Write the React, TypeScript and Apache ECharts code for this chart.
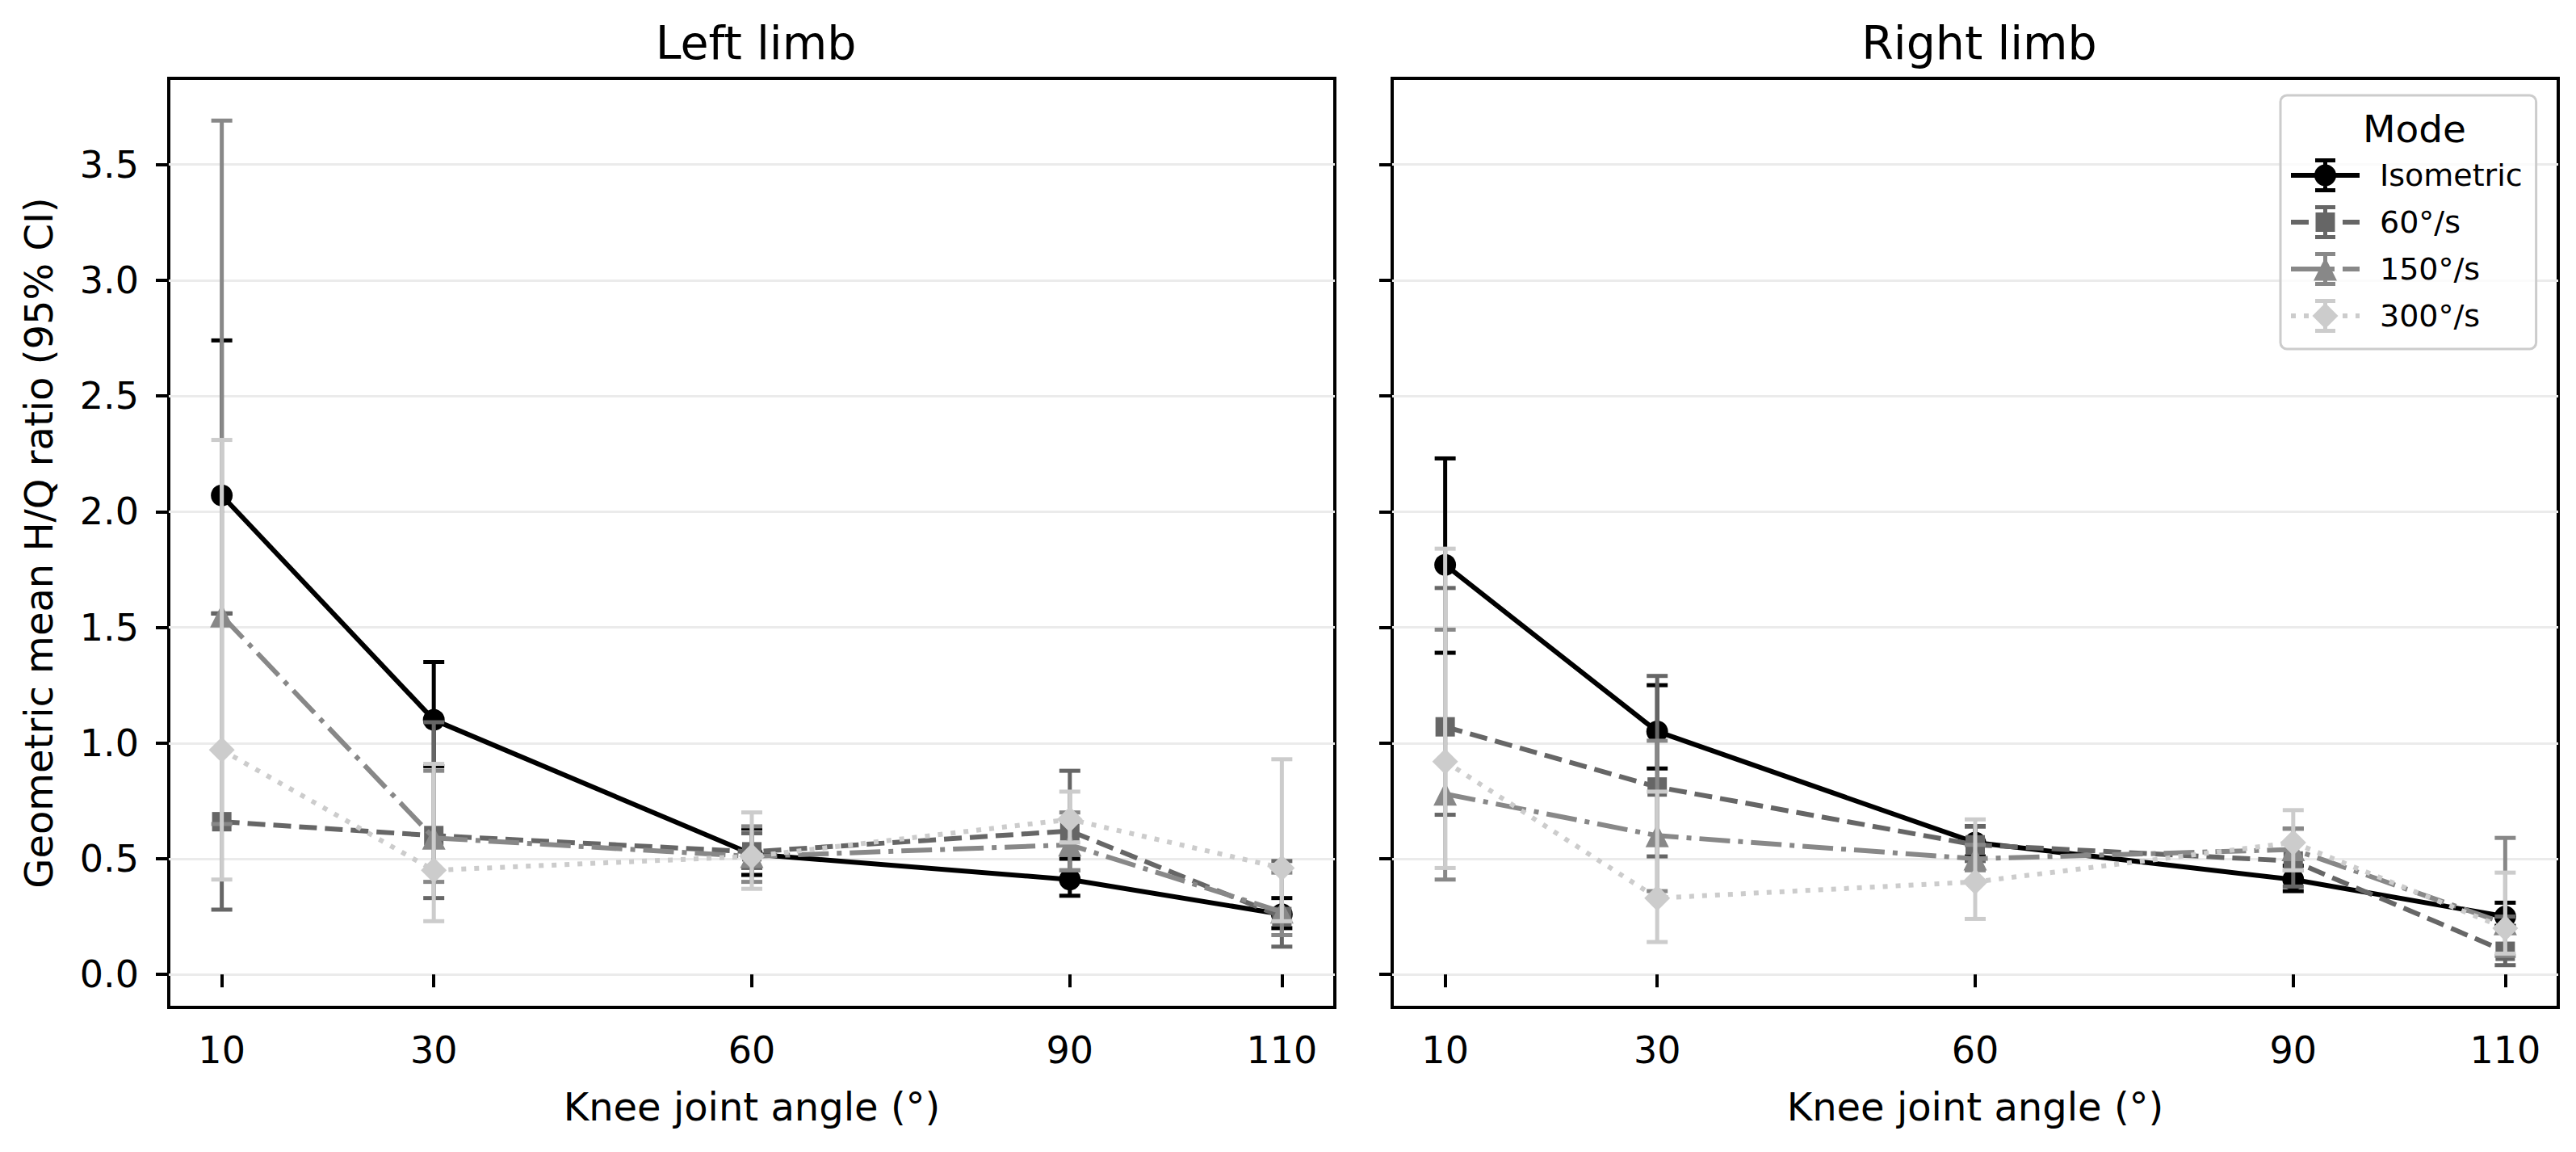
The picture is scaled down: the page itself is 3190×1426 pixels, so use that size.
import React, { useEffect, useRef } from "react";
import * as echarts from "echarts";

// ---------- data ----------
const angles = [10, 30, 60, 90, 110];
const modes = ["Isometric", "60°/s", "150°/s", "300°/s"];
const yTicks = [0, 0.5, 1, 1.5, 2, 2.5, 3, 3.5];
const panelTitles = ["Left limb", "Right limb"];

// Left limb: geometric mean and 95% CI
const leftIsoMean = [2.07, 1.1, 0.52, 0.41, 0.26];
const leftIsoLow = [1.56, 0.9, 0.43, 0.34, 0.2];
const leftIsoHigh = [2.74, 1.35, 0.63, 0.5, 0.33];
const left60Mean = [0.66, 0.6, 0.53, 0.62, 0.25];
const left60Low = [0.28, 0.33, 0.46, 0.45, 0.12];
const left60High = [1.56, 1.09, 0.61, 0.88, 0.49];
const left150Mean = [1.55, 0.59, 0.51, 0.56, 0.27];
const left150Low = [0.65, 0.4, 0.4, 0.45, 0.17];
const left150High = [3.69, 0.88, 0.64, 0.7, 0.44];
const left300Mean = [0.97, 0.45, 0.51, 0.67, 0.46];
const left300Low = [0.41, 0.23, 0.37, 0.57, 0.23];
const left300High = [2.31, 0.91, 0.7, 0.79, 0.93];

// Right limb
const rightIsoMean = [1.77, 1.05, 0.57, 0.41, 0.25];
const rightIsoLow = [1.39, 0.89, 0.51, 0.36, 0.21];
const rightIsoHigh = [2.23, 1.25, 0.64, 0.47, 0.31];
const right60Mean = [1.07, 0.81, 0.56, 0.49, 0.1];
const right60Low = [0.69, 0.51, 0.49, 0.38, 0.04];
const right60High = [1.67, 1.29, 0.64, 0.63, 0.25];
const right150Mean = [0.78, 0.6, 0.5, 0.54, 0.22];
const right150Low = [0.41, 0.36, 0.45, 0.45, 0.08];
const right150High = [1.49, 1.01, 0.56, 0.63, 0.59];
const right300Mean = [0.92, 0.33, 0.4, 0.57, 0.2];
const right300Low = [0.46, 0.14, 0.24, 0.45, 0.09];
const right300High = [1.84, 0.79, 0.67, 0.71, 0.44];

const panels = [
  {
    mean: [leftIsoMean, left60Mean, left150Mean, left300Mean],
    low: [leftIsoLow, left60Low, left150Low, left300Low],
    high: [leftIsoHigh, left60High, left150High, left300High],
  },
  {
    mean: [rightIsoMean, right60Mean, right150Mean, right300Mean],
    low: [rightIsoLow, right60Low, right150Low, right300Low],
    high: [rightIsoHigh, right60High, right150High, right300High],
  },
];

// ---------- styles ----------
const FONT = "DejaVu Sans";
const colors = ["#000000", "#666666", "#888888", "#cccccc"];
const lineTypes: any[] = ["solid", [22, 10], [38, 10, 6, 10], [6, 10]];
const symbols = ["circle", "rect", "triangle", "diamond"];
const symbolSizes: any[] = [27, 24, 29, 32];
const LW = 6;

// legend icon (line + errorbar + marker) in an 85 x 42 box
const rectP = (x: number, y: number, w: number, h: number) =>
  `M${x} ${y}h${w}v${h}h${-w}Z`;
const legendSegments = [
  [[0, 85]],
  [[0, 22], [32, 54], [64, 85]],
  [[0, 38], [48, 54], [64, 85]],
  [[0, 6], [16, 22], [32, 38], [48, 54], [64, 70], [80, 85]],
];
const legendMarkers = [
  "M29 21A13.5 13.5 0 1 1 56 21A13.5 13.5 0 1 1 29 21Z",
  rectP(30.5, 9, 24, 24),
  "M42.5 6.5L57 35.5L28 35.5Z",
  "M42.5 5L58.5 21L42.5 37L26.5 21Z",
];
const legendIcon = (i: number) =>
  "path://" +
  legendSegments[i].map(([a, b]) => rectP(a, 18, b - a, 6)).join("") +
  rectP(40, 0, 5, 42) +
  rectP(30, 0, 25, 5) +
  rectP(30, 37, 25, 5) +
  legendMarkers[i];

export default function App() {
  const ref = useRef<HTMLDivElement>(null);

  useEffect(() => {
    if (!ref.current) return;
    const chart = echarts.init(ref.current, undefined, { renderer: "svg" });

    const allLow = panels.flatMap((p) => p.low.flat());
    const allHigh = panels.flatMap((p) => p.high.flat());
    const dMin = Math.min(...allLow);
    const dMax = Math.max(...allHigh);
    const yMin = dMin - 0.05 * (dMax - dMin);
    const yMax = dMax + 0.05 * (dMax - dMin);
    const xSpan = angles[angles.length - 1] - angles[0];
    const xMin = angles[0] - 0.05 * xSpan;
    const xMax = angles[angles.length - 1] + 0.05 * xSpan;

    const grids = [
      { left: 209, top: 97, width: 1444, height: 1150 },
      { left: 1724, top: 97, width: 1444, height: 1150 },
    ];

    const xAxes = grids.map((_, gi) => ({
      type: "value",
      gridIndex: gi,
      min: xMin,
      max: xMax,
      name: "Knee joint angle (°)",
      nameLocation: "middle",
      nameGap: 99,
      nameTextStyle: { fontFamily: FONT, fontSize: 48, color: "#000" },
      axisLine: { show: false },
      splitLine: { show: false },
      axisTick: {
        show: true,
        customValues: angles,
        length: 16,
        lineStyle: { color: "#000", width: 4 },
      },
      axisLabel: {
        customValues: angles,
        margin: 30,
        fontFamily: FONT,
        fontSize: 46,
        color: "#000",
      },
    }));

    const yAxes = grids.map((_, gi) => ({
      type: "value",
      gridIndex: gi,
      min: yMin,
      max: yMax,
      name: gi === 0 ? "Geometric mean H/Q ratio (95% CI)" : "",
      nameLocation: "middle",
      nameRotate: 90,
      nameGap: 137,
      nameTextStyle: { fontFamily: FONT, fontSize: 48, color: "#000" },
      axisLine: { show: false },
      splitLine: { show: true, lineStyle: { color: "#ebebeb", width: 3 } },
      axisTick: {
        show: true,
        customValues: yTicks,
        length: 16,
        lineStyle: { color: "#000", width: 4 },
      },
      axisLabel: {
        show: gi === 0,
        customValues: yTicks,
        margin: 37,
        fontFamily: FONT,
        fontSize: 46,
        color: "#000",
        formatter: (v: number) => v.toFixed(1),
      },
    }));

    const series: any[] = [];
    panels.forEach((p, gi) => {
      modes.forEach((m, i) => {
        const color = colors[i];
        series.push({
          type: "custom",
          name: m + " CI " + gi,
          xAxisIndex: gi,
          yAxisIndex: gi,
          z: 10 + i * 2,
          silent: true,
          data: angles.map((a, k) => [a, p.mean[i][k], p.low[i][k], p.high[i][k]]),
          encode: { x: 0, y: [2, 3] },
          renderItem: (params: any, api: any) => {
            const x = api.value(0);
            const lo = api.coord([x, api.value(2)]);
            const hi = api.coord([x, api.value(3)]);
            const hw = 13;
            const style = { stroke: color, lineWidth: 5, fill: null };
            return {
              type: "group",
              children: [
                { type: "line", shape: { x1: lo[0], y1: lo[1], x2: hi[0], y2: hi[1] }, style },
                { type: "line", shape: { x1: lo[0] - hw, y1: lo[1], x2: lo[0] + hw, y2: lo[1] }, style },
                { type: "line", shape: { x1: hi[0] - hw, y1: hi[1], x2: hi[0] + hw, y2: hi[1] }, style },
              ],
            };
          },
        });
        series.push({
          type: "line",
          name: m,
          xAxisIndex: gi,
          yAxisIndex: gi,
          z: 11 + i * 2,
          data: angles.map((a, k) => [a, p.mean[i][k]]),
          symbol: symbols[i],
          symbolSize: symbolSizes[i],
          showSymbol: true,
          lineStyle: { color, width: LW, type: lineTypes[i] },
          itemStyle: { color, borderWidth: 0 },
          emphasis: { disabled: true },
        });
      });
    });

    chart.setOption({
      animation: false,
      backgroundColor: "#ffffff",
      title: [
        {
          text: panelTitles[0],
          left: 931,
          top: 19,
          textAlign: "center",
          textStyle: { fontFamily: FONT, fontSize: 57, fontWeight: "normal", color: "#000" },
        },
        {
          text: panelTitles[1],
          left: 2446,
          top: 19,
          textAlign: "center",
          textStyle: { fontFamily: FONT, fontSize: 57, fontWeight: "normal", color: "#000" },
        },
        {
          text: "Mode",
          left: 2985,
          top: 131,
          textAlign: "center",
          z: 20,
          textStyle: { fontFamily: FONT, fontSize: 47, fontWeight: "normal", color: "#000" },
        },
      ],
      legend: {
        orient: "vertical",
        left: 2824,
        top: 118,
        data: modes.map((m, i) => ({ name: m, icon: legendIcon(i) })),
        itemWidth: 85,
        itemHeight: 42,
        itemGap: 16,
        padding: [78, 17, 20, 13],
        backgroundColor: "rgba(255,255,255,0.8)",
        borderColor: "#cccccc",
        borderWidth: 3,
        borderRadius: 8,
        selectedMode: false,
        itemStyle: { borderWidth: 0 },
        textStyle: { fontFamily: FONT, fontSize: 38, color: "#000", padding: [0, 0, 0, 20] },
        z: 15,
      },
      grid: grids.map((g) => ({
        ...g,
        show: true,
        borderColor: "#000",
        borderWidth: 4,
        backgroundColor: "transparent",
        containLabel: false,
      })),
      xAxis: xAxes,
      yAxis: yAxes,
      series,
    });

    return () => chart.dispose();
  }, []);

  return (
    <div
      ref={ref}
      style={{ position: "absolute", left: 0, top: 0, width: 3190, height: 1426 }}
    />
  );
}
